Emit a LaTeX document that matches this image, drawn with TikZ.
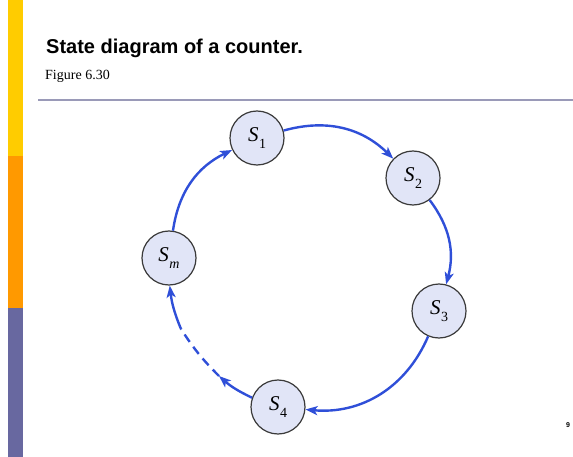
\documentclass[tikz,border=0pt]{standalone}
\usepackage{fontspec}
\setmainfont{Liberation Serif}
\setsansfont{Liberation Sans}
\usetikzlibrary{arrows.meta}
\definecolor{baryellow}{HTML}{FFCC00}
\definecolor{barorange}{HTML}{FF9900}
\definecolor{barslate}{HTML}{6868A0}
\definecolor{rulegray}{HTML}{9A9AB8}
\definecolor{statefill}{HTML}{E1E5F7}
\definecolor{stateline}{HTML}{3A3A3A}
\definecolor{arrowblue}{HTML}{2F4FD8}
% state name: italic S with a lowered index
\newcommand{\sname}[1]{\textit{S}\kern0.5pt\raisebox{-0.32em}{\fontsize{14}{15}\selectfont #1}}

\begin{document}
\begin{tikzpicture}[
  x=1pt, y=1pt,
  state/.style={circle, draw=stateline, fill=statefill, line width=1.2pt,
    minimum size=54pt, inner sep=0pt, font=\fontsize{21}{24}\selectfont},
  flow/.style={draw=arrowblue, line width=2.4pt,
    -{Stealth[length=12pt,width=9pt,inset=3pt]}},
  gap/.style={draw=arrowblue, line width=2.4pt, dash pattern=on 9pt off 6pt}
]
  \useasboundingbox (0,0) rectangle (573,-457);

  % side bar
  \fill[baryellow] (8,0) rectangle (23,-156);
  \fill[barorange] (8,-156) rectangle (23,-308);
  \fill[barslate] (8,-308) rectangle (23,-457);

  % heading
  \node[anchor=base west, inner sep=0pt,
    font=\sffamily\bfseries\fontsize{20}{24}\selectfont] (title) at (46,-54)
    {State diagram of a counter.};
  \node[anchor=base west, inner sep=0pt, font=\fontsize{14}{16}\selectfont]
    (figno) at (45,-80) {Figure 6.30};
  \draw[rulegray, line width=1.4pt] (38,-100) -- (573,-100);

  % states
  \node[state] (s1) at (257,-138) {\sname{1}};
  \node[state] (s2) at (413,-178) {\sname{2}};
  \node[state] (s3) at (439,-311) {\sname{3}};
  \node[state] (s4) at (278,-407) {\sname{4}};
  \node[state] (sm) at (169,-258) {\sname{\textit{m}}};
  \coordinate (g1) at (219,-376);
  \coordinate (g2) at (181,-329);

  \draw[flow] (s1) to[bend left=30] (s2);
  \draw[flow] (s2) to[bend left=26] (s3);
  \draw[flow] (s3) to[bend left=36] (s4);
  \draw[flow] (s4) to[bend left=8] (g1);
  \draw[gap] (g1) to[bend left=6] (g2);
  \draw[flow] (g2) to[bend left=8] (sm);
  \draw[flow] (sm) to[bend left=28] (s1);

  \node[font=\sffamily\bfseries\fontsize{7}{8}\selectfont] (page) at (568,-425) {9};
\end{tikzpicture}
\end{document}
